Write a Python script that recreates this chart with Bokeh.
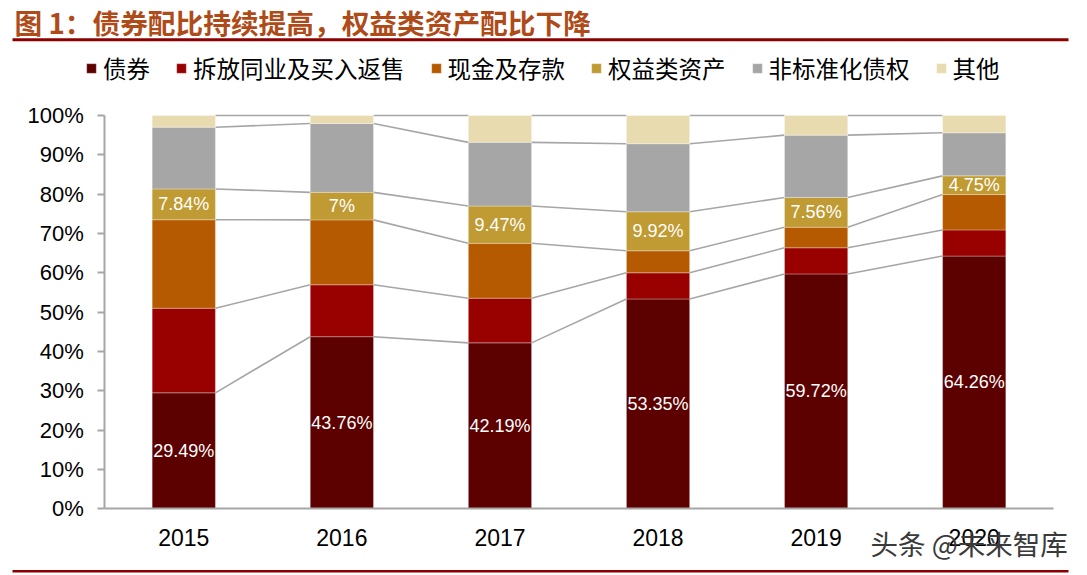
import numpy as np
from bokeh.plotting import figure
from bokeh.models import (ColumnDataSource, Range1d, LinearAxis, FixedTicker,
                          Label, BoxAnnotation)
from bokeh.core.properties import value
from bokeh.embed import file_html
from bokeh.resources import INLINE

# ---------------- data ----------------
years = ["2015", "2016", "2017", "2018", "2019", "2020"]
series_names = ["债券", "拆放同业及买入返售", "现金及存款", "权益类资产", "非标准化债权", "其他"]
bonds = [29.49, 43.76, 42.19, 53.35, 59.72, 64.26]
interbank = [21.5, 13.2, 11.36, 6.65, 6.64, 6.64]
cash = [22.5, 16.5, 13.95, 5.6, 5.24, 9.0]
equity = [7.84, 7.0, 9.47, 9.92, 7.56, 4.75]
nonstd = [15.7, 17.5, 16.2, 17.3, 15.84, 10.95]
other = [2.97, 2.04, 6.83, 7.18, 5.0, 4.4]
y_ticks = [0, 10, 20, 30, 40, 50, 60, 70, 80, 90, 100]
y_tick_labels = ["0%", "10%", "20%", "30%", "40%", "50%", "60%", "70%", "80%", "90%", "100%"]

title_text = "图 1：债券配比持续提高，权益类资产配比下降"
watermark_text = "头条 @未来智库"

colors = ["#5C0000", "#990000", "#B55A00", "#C09A32", "#A6A6A6", "#E9DBB0"]
keys = ["bonds", "interbank", "cash", "equity", "nonstd", "other"]
BAR_W = 0.4

idx = list(range(len(years)))
series = [bonds, interbank, cash, equity, nonstd, other]
src = ColumnDataSource(dict(x=idx, **{k: v for k, v in zip(keys, series)}))

W, H = 1087, 575
p = figure(width=W, height=H,
           x_range=Range1d(-1.1595, 5.7167), y_range=Range1d(-16.96, 129.24),
           output_backend="svg", toolbar_location=None, min_border=0,
           x_axis_location=None, y_axis_location=None,
           outline_line_color=None, background_fill_color="white",
           border_fill_color="white")
p.grid.visible = False

# connector lines between bars at each cumulative level
cum = np.cumsum(np.array(series, dtype=float), axis=0)
x0s, y0s, x1s, y1s = [], [], [], []
for k in range(cum.shape[0]):
    for i in range(len(years) - 1):
        x0s.append(i + BAR_W / 2)
        y0s.append(cum[k, i])
        x1s.append(i + 1 - BAR_W / 2)
        y1s.append(cum[k, i + 1])
p.segment(x0=x0s, y0=y0s, x1=x1s, y1=y1s, line_color="#A6A6A6", line_width=1.6)

# stacked bars
p.vbar_stack(keys, x="x", width=BAR_W, color=colors, source=src,
             line_color="white", line_width=0.6, line_alpha=0.5,
             legend_label=series_names)

# value labels
bond_lbl = ColumnDataSource(dict(x=idx, y=[v / 2 for v in bonds],
                                 t=[f"{v:g}%" for v in bonds]))
eq_base = cum[2]
eq_lbl = ColumnDataSource(dict(x=idx, y=[b + v / 2 for b, v in zip(eq_base, equity)],
                               t=[f"{v:g}%" for v in equity]))
for s in (bond_lbl, eq_lbl):
    p.text(x="x", y="y", text="t", source=s, text_color="white",
           text_font=value("Liberation Sans"), text_font_size="18px",
           text_align="center", text_baseline="middle")

# axes
xaxis = LinearAxis(fixed_location=0, ticker=FixedTicker(ticks=idx),
                   major_label_overrides={i: y for i, y in zip(idx, years)},
                   bounds=(-0.5, len(years) - 0.5))
xaxis.axis_line_color = "#A6A6A6"
xaxis.axis_line_width = 2
xaxis.major_tick_out = 0
xaxis.major_tick_in = 0
xaxis.minor_tick_out = 0
xaxis.minor_tick_in = 0
xaxis.major_label_standoff = 20
xaxis.major_label_text_font = "Liberation Sans"
xaxis.major_label_text_font_size = "23px"
xaxis.major_label_text_color = "black"
p.add_layout(xaxis, "below")

yaxis = LinearAxis(fixed_location=-0.5, ticker=FixedTicker(ticks=y_ticks),
                   major_label_overrides={t: l for t, l in zip(y_ticks, y_tick_labels)},
                   bounds=(0, 100))
yaxis.axis_line_color = "#A6A6A6"
yaxis.axis_line_width = 2
yaxis.major_tick_line_color = "#A6A6A6"
yaxis.major_tick_line_width = 2
yaxis.major_tick_out = 7
yaxis.major_tick_in = 0
yaxis.minor_tick_out = 0
yaxis.minor_tick_in = 0
yaxis.major_label_standoff = 14
yaxis.major_label_text_font = "Liberation Sans"
yaxis.major_label_text_font_size = "22px"
yaxis.major_label_text_color = "black"
p.add_layout(yaxis, "left")

# legend
lg = p.legend[0]
lg.orientation = "horizontal"
lg.location = (85, 490)
lg.border_line_color = None
lg.background_fill_alpha = 0
lg.padding = 0
lg.margin = 0
lg.spacing = 25
lg.glyph_width = 12
lg.glyph_height = 12
lg.label_standoff = 6
lg.label_height = 24
lg.label_text_font = "Noto Sans CJK SC"
lg.label_text_font_size = "23.5px"
lg.label_text_color = "black"

# title + rules
p.add_layout(Label(x=14, y=H - 21, x_units="screen", y_units="screen",
                   text=title_text, text_baseline="middle",
                   text_font="Noto Sans CJK SC", text_font_style="bold",
                   text_font_size="27.7px", text_color="#AF4B19"))
p.add_layout(BoxAnnotation(left=12, right=1068, bottom=H - 40.7, top=H - 37.7,
                           left_units="screen", right_units="screen",
                           bottom_units="screen", top_units="screen",
                           fill_color="#8C0000", fill_alpha=1, line_color=None))
p.add_layout(BoxAnnotation(left=12, right=1068, bottom=H - 572, top=H - 569.5,
                           left_units="screen", right_units="screen",
                           bottom_units="screen", top_units="screen",
                           fill_color="#8C0000", fill_alpha=1, line_color=None))
p.add_layout(Label(x=870, y=H - 542, x_units="screen", y_units="screen",
                   text=watermark_text, text_baseline="middle",
                   text_font="Noto Sans CJK SC", text_font_size="27.5px",
                   text_color="#3A3A3A"))

open("out.html", "w").write(file_html(p, INLINE))
